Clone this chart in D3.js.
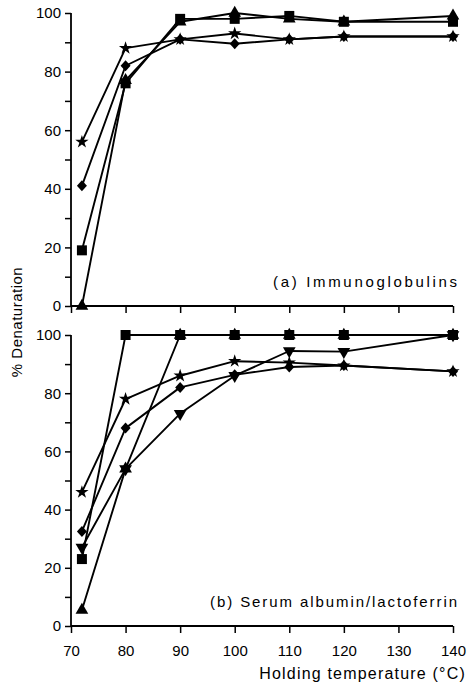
<!DOCTYPE html>
<html><head><meta charset="utf-8">
<script src="https://cdn.jsdelivr.net/npm/d3@7"></script>
<style>body{margin:0;background:#fff;} svg{display:block;}</style>
</head><body>
<svg id="c" width="475" height="685"></svg>
<script>
const temps = [72, 80, 90, 100, 110, 120, 140];
const xTicks = [70, 80, 90, 100, 110, 120, 130, 140];
const yTicks = [0, 20, 40, 60, 80, 100];
// (a) Immunoglobulins
const igTriangle = [0, 77, 97, 100, 98, 97, 99];
const igSquare   = [19, 76, 98, 98, 99, 97, 97];
const igStar     = [56, 88, 91, 93, 91, 92, 92];
const igDiamond  = [41, 82, 91, 89.5, 91, 92, 92];
// (b) Serum albumin/lactoferrin
const saSquare   = [23, 100, 100, 100, 100, 100, 100];
const saTriangle = [5.5, 54, 100, 100, 100, 100, 100];
const saInvTri   = [27, 54, 73, 86, 94.5, 94.3, 100];
const saStar     = [46, 78, 86, 91, 90.5, 89.5, 87.5];
const saDiamond  = [32.5, 68, 82, 86.3, 89, 89.5, 87.5];

const panelA = [
  {shape:"star", vals: igStar},
  {shape:"diamond", vals: igDiamond},
  {shape:"triangle", vals: igTriangle},
  {shape:"square", vals: igSquare}
];
const panelB = [
  {shape:"star", vals: saStar},
  {shape:"diamond", vals: saDiamond},
  {shape:"invtri", vals: saInvTri},
  {shape:"triangle", vals: saTriangle},
  {shape:"square", vals: saSquare}
];

const svg = d3.select("#c");
const font = "'Liberation Sans', Arial, Helvetica, sans-serif";
const x = d3.scaleLinear().domain([70,140]).range([71,453]);
const yA = d3.scaleLinear().domain([0,100]).range([306,13]);
const yB = d3.scaleLinear().domain([0,100]).range([626,335]);

const rhombus = {draw(ctx, size){ const w=5, h=5.5; ctx.moveTo(0,-h); ctx.lineTo(w,0); ctx.lineTo(0,h); ctx.lineTo(-w,0); ctx.closePath(); }};
function symFor(s){
  if (s==="star") return d3.symbol(d3.symbolStar, 55)();
  if (s==="diamond") return d3.symbol(rhombus, 1)();
  if (s==="triangle" || s==="invtri") return d3.symbol(d3.symbolTriangle, 70)();
  return d3.symbol(d3.symbolSquare, 100)();
}

function panel(y, series, label, labelLen, showXLabels){
  const g = svg.append("g");
  const ya = d3.axisLeft(y).tickValues(yTicks).tickSize(6).tickPadding(4).tickFormat(d3.format("d"));
  const gy = g.append("g").attr("transform","translate(71,0)").call(ya);
  gy.select(".domain").attr("stroke","#000").attr("stroke-width",1.8).attr("d", `M-0,${y(100)}V${y(0)}`);
  gy.selectAll(".tick line").attr("stroke-width",1.5);
  gy.selectAll("text").style("font-family",font).style("font-size","15px").attr("fill","#000");
  const yminor = d3.axisLeft(y).tickValues([10,30,50,70,90]).tickSize(6).tickFormat("");
  const gym = g.append("g").attr("transform","translate(71,0)").call(yminor);
  gym.select(".domain").remove();
  gym.selectAll(".tick line").attr("stroke-width",1.5);
  const xa = d3.axisBottom(x).tickValues(xTicks).tickSize(7).tickPadding(12)
    .tickFormat(showXLabels ? d3.format("d") : "");
  const gx = g.append("g").attr("transform",`translate(0,${y(0)})`).call(xa);
  gx.select(".domain").attr("stroke-width",1.8).attr("d", `M${x(70)},0H${x(140)}`);
  gx.selectAll(".tick line").attr("stroke-width",1.5);
  gx.selectAll("text").style("font-family",font).style("font-size","15px").attr("fill","#000");

  const line = d3.line().x((d,i)=>x(temps[i])).y(d=>y(d));
  series.forEach(s=>{
    g.append("path").attr("d", line(s.vals)).attr("fill","none")
      .attr("stroke","#000").attr("stroke-width",1.9).attr("stroke-linejoin","round");
  });
  series.forEach(s=>{
    g.selectAll(null).data(s.vals).enter().append("path")
      .attr("d", symFor(s.shape))
      .attr("transform",(d,i)=>`translate(${x(temps[i])},${y(d)})` + (s.shape==="invtri" ? " rotate(180)" : ""))
      .attr("fill","#000");
  });
  g.append("text").attr("x",457 - labelLen).attr("y",y(0)-19)
    .attr("textLength", labelLen).attr("lengthAdjust","spacing")
    .style("font-family",font).style("font-size","15px").text(label);
}

panel(yA, panelA, "(a) Immunoglobulins", 184, false);
panel(yB, panelB, "(b) Serum albumin/lactoferrin", 247, true);

svg.append("text").attr("transform","translate(22,322) rotate(-90)").attr("text-anchor","middle")
  .style("font-family",font).style("font-size","15px").style("letter-spacing","0.5px").text("% Denaturation");
svg.append("text").attr("x",466).attr("y",679).attr("text-anchor","end")
  .style("font-family",font).style("font-size","16px").style("letter-spacing","1.2px").text("Holding temperature (°C)");
</script>
</body></html>
